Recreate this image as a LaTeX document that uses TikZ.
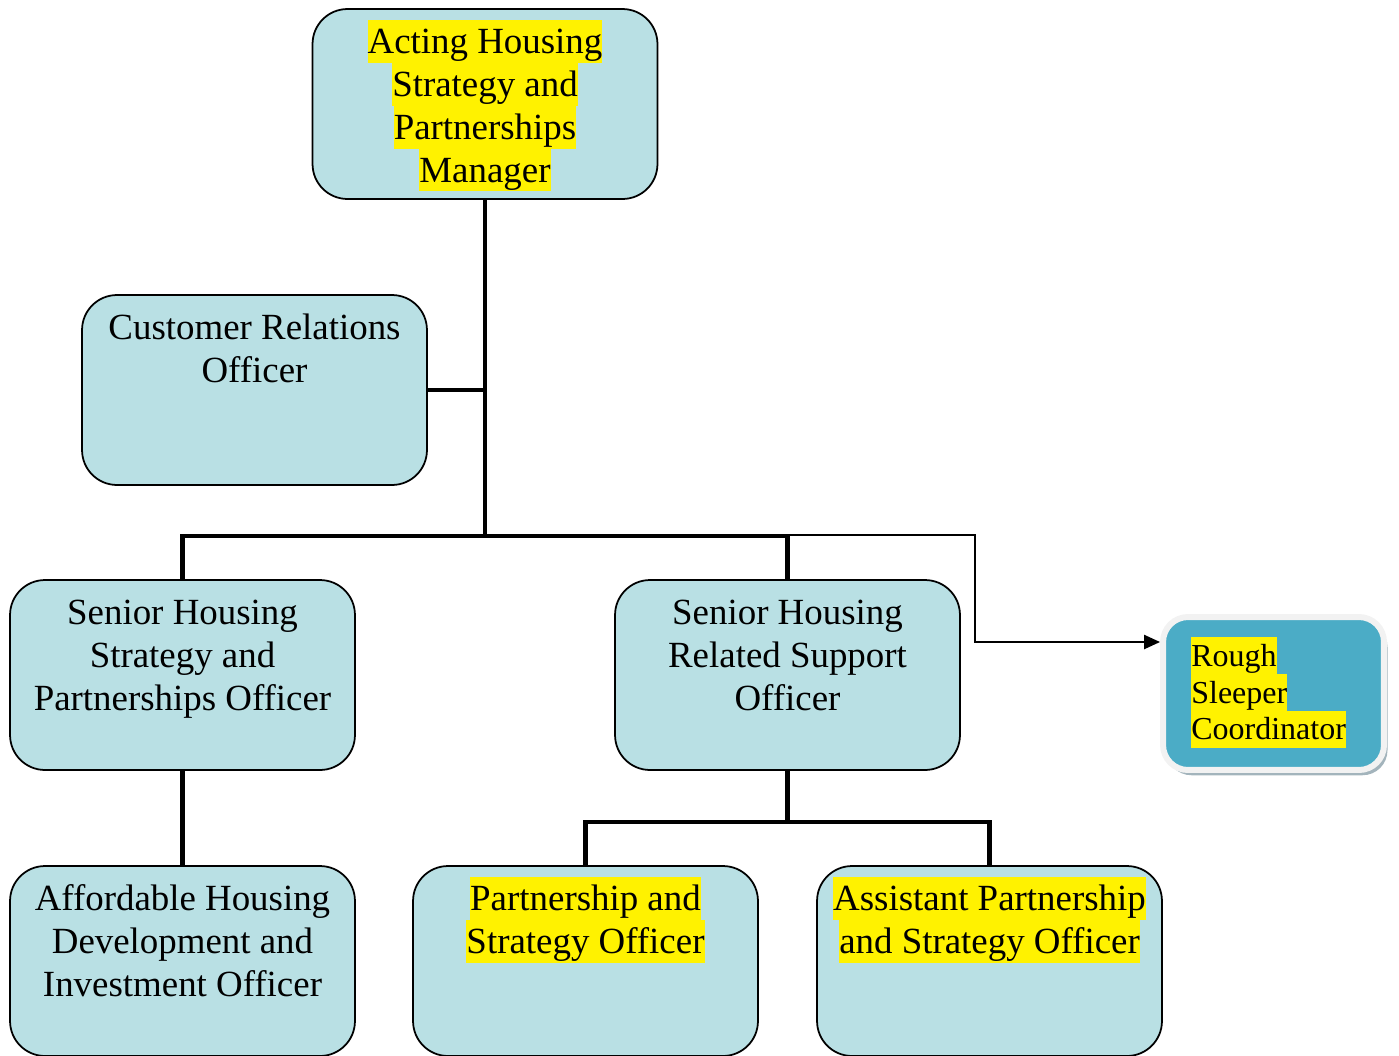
\documentclass[tikz,border=0pt]{standalone}
\usepackage{fontspec}
\setmainfont{Liberation Serif}
\usetikzlibrary{arrows.meta, shadows}
\definecolor{boxblue}{HTML}{B9E0E4}
\definecolor{roughteal}{HTML}{4BACC6}
\definecolor{rimgrey}{HTML}{F2F2F2}
\definecolor{shadegrey}{HTML}{A3B4BC}
\newcommand\linestrut{\rule[-0.22\baselineskip]{0pt}{\baselineskip}}
\newcommand\hl[1]{{\setlength{\fboxsep}{0pt}\colorbox{yellow}{\linestrut#1}}}

\begin{document}
\begin{tikzpicture}[x=0.02cm, y=-0.02cm,
    post/.style={draw, fill=boxblue, line width=1pt, rounded corners=0.7cm, minimum width=6.9cm, minimum height=3.8cm},
    postname/.style={anchor=north, inner sep=0pt, align=center, font=\fontsize{21}{24.4}\selectfont},
    roughpost/.style={draw=rimgrey, fill=roughteal, line width=0.12cm, rounded corners=0.5cm, minimum width=4.42cm, minimum height=3.06cm, drop shadow={shadow xshift=2pt, shadow yshift=-3pt, fill=shadegrey, opacity=1}},
    roughname/.style={anchor=north west, inner sep=0pt, align=left, font=\fontsize{18.2}{21}\selectfont},
    branch/.style={line width=2.3pt},
    feed/.style={line width=1pt, -{Triangle[length=9pt, width=8pt]}}]
    \useasboundingbox (0,0) rectangle (1399,1055);
    \clip (0,0) rectangle (1399,1055);

    \node[post] (top) at (485,104) {};
    \node[post] (cro) at (254.5,390) {};
    \node[post] (shspo) at (182.5,675) {};
    \node[post] (shrso) at (787.5,675) {};
    \node[post] (ahdio) at (182.5,961) {};
    \node[post] (pso) at (585.5,961) {};
    \node[post] (apso) at (989.5,961) {};
    \node[roughpost] (rsc) at (1273.5,693.5) {};

    \node[postname] (topname) at ([yshift=-0.23cm]top.north) {\hl{Acting Housing}\\ \hl{Strategy and}\\ \hl{Partnerships}\\ \hl{Manager}};
    \node[postname] (croname) at ([yshift=-0.23cm]cro.north) {\linestrut Customer Relations\\ Officer};
    \node[postname] (shsponame) at ([yshift=-0.23cm]shspo.north) {\linestrut Senior Housing\\ Strategy and\\ Partnerships Officer};
    \node[postname] (shrsoname) at ([yshift=-0.23cm]shrso.north) {\linestrut Senior Housing\\ Related Support\\ Officer};
    \node[postname] (ahdioname) at ([yshift=-0.23cm]ahdio.north) {\linestrut Affordable Housing\\ Development and\\ Investment Officer};
    \node[postname] (psoname) at ([yshift=-0.23cm]pso.north) {\hl{Partnership and}\\ \hl{Strategy Officer}};
    \node[postname] (apsoname) at ([yshift=-0.23cm]apso.north) {\hl{Assistant Partnership}\\ \hl{and Strategy Officer}};
    \node[roughname] (rscname) at (1191,637) {\hl{Rough}\\ \hl{Sleeper}\\ \hl{Coordinator}};

    \coordinate (bus) at (485,536);
    \coordinate (subbus) at (787.5,822);
    \coordinate (rsturn) at (975,642);

    \draw[branch] (top.south) -- (bus);
    \draw[branch] (cro.east) -- (cro.east -| top.south);
    \draw[branch] (shspo.north) |- (shrso.north |- bus) -- (shrso.north);
    \draw[branch] (shspo.south) -- (ahdio.north);
    \draw[branch] (shrso.south) -- (subbus);
    \draw[branch] (pso.north) |- (subbus) -| (apso.north);
    \draw[feed] ([yshift=0.02cm]shrso.north |- bus) -| (rsturn) -- (rsc.west |- rsturn);
\end{tikzpicture}
\end{document}
